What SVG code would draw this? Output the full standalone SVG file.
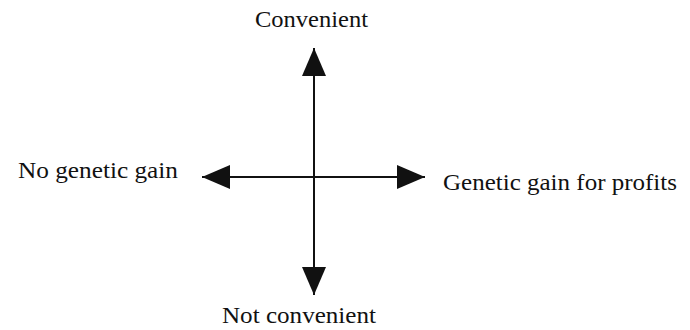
<svg xmlns="http://www.w3.org/2000/svg" width="690" height="330" viewBox="0 0 690 330">
<style>
.lbl{font-family:"Liberation Serif","Times New Roman",serif;font-size:23px;fill:#111}
.ax{stroke:#111;stroke-width:2;fill:none}
</style>
<defs>
<marker id="ah" viewBox="0 0 28 24" refX="28" refY="12" markerWidth="28" markerHeight="24" markerUnits="userSpaceOnUse" orient="auto">
<path d="M0,0 L28,12 L0,24 Z" fill="#111"/>
</marker>
</defs>
<rect width="690" height="330" fill="#fff"/>
<g id="connectors">
<line class="ax" x1="314" y1="177" x2="314" y2="48" marker-end="url(#ah)"/>
<line class="ax" x1="314" y1="177" x2="314" y2="295" marker-end="url(#ah)"/>
<line class="ax" x1="314" y1="177" x2="202" y2="177" marker-end="url(#ah)"/>
<line class="ax" x1="314" y1="177" x2="425" y2="177" marker-end="url(#ah)"/>
</g>
<g id="convenient"><text class="lbl" x="255" y="27" textLength="113" lengthAdjust="spacingAndGlyphs">Convenient</text></g>
<g id="not-convenient"><text class="lbl" x="222" y="323" textLength="154" lengthAdjust="spacingAndGlyphs">Not convenient</text></g>
<g id="no-genetic-gain"><text class="lbl" x="18" y="178" textLength="160" lengthAdjust="spacingAndGlyphs">No genetic gain</text></g>
<g id="genetic-gain"><text class="lbl" x="443" y="190" textLength="234" lengthAdjust="spacingAndGlyphs">Genetic gain for profits</text></g>
</svg>
